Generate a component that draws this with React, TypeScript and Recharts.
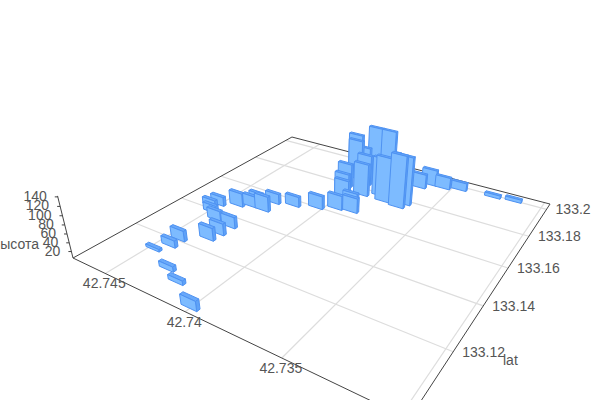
import { ReferenceLine, Scatter, ScatterChart, XAxis, YAxis } from "recharts";

const lats = [
  42.74005, 42.74183, 42.74292, 42.74471, 42.74431, 42.74433, 42.74318, 42.74308, 42.74305, 42.74417, 42.74493,
  42.74544, 42.74512, 42.74419, 42.74352, 42.74268, 42.74334, 42.74271, 42.7416, 42.74039, 42.73946, 42.7386,
  42.7389, 42.73974, 42.73993, 42.74043, 42.73908, 42.73962, 42.74007, 42.74042, 42.7407, 42.73965, 42.7388,
  42.73816, 42.73769, 42.73675, 42.73659, 42.739, 42.73673, 42.73635, 42.7355, 42.73462, 42.73267, 42.73153,
];
const lons = [
  133.099, 133.105, 133.108, 133.113, 133.117, 133.121, 133.126, 133.13, 133.135, 133.136, 133.139,
  133.142, 133.144, 133.147, 133.149, 133.149, 133.151, 133.155, 133.157, 133.16, 133.163, 133.164,
  133.167, 133.17, 133.172, 133.179, 133.176, 133.184, 133.188, 133.186, 133.189, 133.192, 133.192,
  133.179, 133.176, 133.175, 133.178, 133.199, 133.192, 133.196, 133.196, 133.198, 133.199, 133.2,
];
const heights = [
  22, 10, 12, 6, 17, 25, 30, 28, 27, 24, 18,
  16, 22, 33, 27, 37, 30, 25, 25, 32, 35, 36,
  35, 48, 57, 58, 80, 75, 80, 100, 105, 125, 125,
  95, 110, 128, 118, 50, 36, 40, 30, 20, 8, 8,
];

const latTicks = [42.745, 42.74, 42.735, 42.73];
const lonTicks = [133.12, 133.14, 133.16, 133.18, 133.2];
const heightTicks = [20, 40, 60, 80, 100, 120, 140];

const latMax = 42.7473, latSpan = 0.0176, lonMin = 133.0968, lonSpan = 0.1075, zMin = 5, zMax = 142;
const barLat = 0.0009, barLon = 0.0012;

// camera of the 3d view, a plain perspective matrix fitted to the floor corners
function project(lat: number, lon: number, z: number) {
  const u = (latMax - lat) / latSpan, v = (lon - lonMin) / lonSpan, t = z - zMin;
  const w = 1 - 0.2931 * u + 0.4625 * v - 0.00043 * t;
  return {
    x: (216.2 * u + 354 * v + 73 - 0.1376 * t) / w,
    y: (38.2 * u - 57.6 * v + 258 - 0.5375 * t) / w,
    w,
  };
}

// far bars first so the near ones paint over them
const rows = lats.map((lat, i) => {
  const p = project(lat, lons[i], zMin);
  return { lat, lon: lons[i], h: heights[i], x: p.x, y: p.y, w: p.w };
}).sort((a, b) => b.w - a.w);

function Box(props: any) {
  const { cx, cy, payload } = props;
  const { lat, lon, h } = payload;
  const base = project(lat, lon, zMin);
  const pt = (dLat: number, dLon: number, z: number) => {
    const p = project(lat + dLat * barLat / 2, lon + dLon * barLon / 2, z);
    return `${cx + p.x - base.x},${cy + p.y - base.y}`;
  };
  const top = zMin + h;
  const front = [pt(1, -1, zMin), pt(-1, -1, zMin), pt(-1, -1, top), pt(1, -1, top)].join(" ");
  const side = [pt(-1, -1, zMin), pt(-1, 1, zMin), pt(-1, 1, top), pt(-1, -1, top)].join(" ");
  const cap = [pt(1, -1, top), pt(-1, -1, top), pt(-1, 1, top), pt(1, 1, top)].join(" ");
  return (
    <g stroke="#4e92f2" strokeWidth={1} strokeLinejoin="round">
      <polygon points={side} fill="#5fa2f7" />
      <polygon points={cap} fill="#69a9fa" />
      <polygon points={front} fill="#7dbbff" />
    </g>
  );
}

function Label(props: any) {
  const { cx, cy, payload } = props;
  return (
    <text x={cx} y={cy} dy={5} textAnchor={payload.anchor} fontSize={14} fill="#555">
      {payload.text}
    </text>
  );
}

const seg = (a: { x: number; y: number }, b: { x: number; y: number }, stroke: string, key: string, width = 1) => (
  <ReferenceLine key={key} segment={[{ x: a.x, y: a.y }, { x: b.x, y: b.y }]} stroke={stroke} strokeWidth={width} ifOverflow="visible" />
);

const latLo = latMax - latSpan, latHi = latMax, lonLo = lonMin, lonHi = lonMin + lonSpan;

const labels = [
  ...latTicks.slice(0, 3).map((t) => {
    const p = project(t, lonLo, zMin);
    return { x: p.x - 1, y: p.y + 10, text: String(t), anchor: "middle" };
  }),
  ...lonTicks.map((t) => {
    const p = project(latLo, t, zMin);
    return { x: p.x + 9, y: p.y, text: String(t), anchor: "start" };
  }),
  ...heightTicks.map((t) => {
    const p = project(latHi, lonLo, t);
    return { x: p.x - 11, y: p.y - 1, text: String(t), anchor: "end" };
  }),
  { x: 503, y: 360, text: "lat", anchor: "start" },
  { x: 39, y: 244, text: "высота", anchor: "end" },
];

export default function App() {
  return (
    <div style={{ position: "absolute", left: 0, top: 0, fontFamily: "'Liberation Sans', Arial, sans-serif" }}>
      <ScatterChart width={600} height={400} margin={{ top: 0, right: 0, bottom: 0, left: 0 }}>
        <XAxis type="number" dataKey="x" domain={[0, 600]} hide />
        <YAxis type="number" dataKey="y" domain={[0, 400]} reversed hide />
        {latTicks.map((t) => seg(project(t, lonLo, zMin), project(t, lonHi, zMin), "#ddd", `lat${t}`, 1.2))}
        {lonTicks.map((t) => seg(project(latLo, t, zMin), project(latHi, t, zMin), "#ddd", `lon${t}`, 1.2))}
        {seg(project(latHi, lonLo, zMin), project(latLo, lonLo, zMin), "#444", "e1")}
        {seg(project(latLo, lonLo, zMin), project(latLo, lonHi, zMin), "#444", "e2")}
        {seg(project(latLo, lonHi, zMin), project(latHi, lonHi, zMin), "#444", "e3")}
        {seg(project(latHi, lonHi, zMin), project(latHi, lonLo, zMin), "#444", "e4")}
        {seg(project(latHi, lonLo, zMin), project(latHi, lonLo, zMax), "#444", "e5")}
        {heightTicks.map((t) => {
          const p = project(latHi, lonLo, t);
          return seg(p, { x: p.x - 3, y: p.y }, "#444", `z${t}`);
        })}
        <Scatter data={rows} shape={Box} isAnimationActive={false} />
        <Scatter data={labels} shape={Label} isAnimationActive={false} />
      </ScatterChart>
    </div>
  );
}
